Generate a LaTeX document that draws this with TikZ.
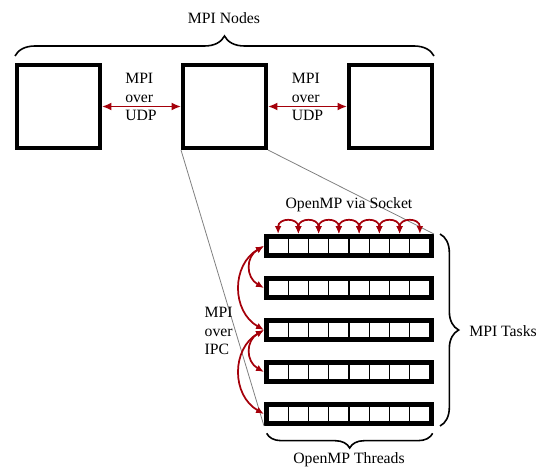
\documentclass[tikz,border=0pt]{standalone}
\usepackage{fontspec}
\setmainfont{Liberation Serif}
\usetikzlibrary{arrows.meta,decorations.pathreplacing}
\definecolor{linkred}{RGB}{165,0,10}

\begin{document}
\begin{tikzpicture}[x=0.75pt, y=-0.75pt,
  font=\fontsize{11.8}{13.8}\selectfont,
  box/.style={draw, line width=3pt, minimum size=62.25pt, inner sep=0pt},
  task/.style={draw, line width=3pt, minimum width=124.5pt, minimum height=15pt, inner sep=0pt},
  cell/.style={draw, line width=1.1pt, minimum width=15.19pt, minimum height=12pt, inner sep=0pt, outer sep=0pt, outer ysep=3pt},
  link/.style={linkred, line width=1.4pt, >={Latex[length=7pt,width=6pt]}, <->},
  hop/.style={linkred, line width=1.3pt, >={Latex[length=6pt,width=5pt]}, <->},
  brace/.style={decorate, decoration={brace, amplitude=#1}, line width=1.2pt}]
  \useasboundingbox (0,0) rectangle (539,467);

  \node[box] (n1) at (58.5,106.5) {};
  \node[box] (n2) at (224.5,106.5) {};
  \node[box] (n3) at (390.5,106.5) {};
  \node (nodes) at (224,18) {MPI Nodes};
  \node[align=left] (udp1) at (141,97) {MPI\\over\\UDP};
  \node[align=left] (udp2) at (307.5,97) {MPI\\over\\UDP};

  \foreach \r in {1,...,5} {
    \foreach \k in {1,...,8}
      \node[cell] (c\r\k) at ({257.875+20.25*\k},{204+42*\r}) {};
    \node[task] (row\r) at (349,{204+42*\r}) {};
  }

  \draw[gray, line width=0.6pt] (n2.south west) -- (row5.south west);
  \draw[gray, line width=0.6pt] (n2.south east) -- (row1.north east);

  \draw[link] (n1) -- (n2);
  \draw[link] (n2) -- (n3);

  \foreach \k [evaluate=\k as \j using int(\k+1)] in {1,...,7}
    \draw[hop] (c1\k.north) to[out=90, in=90, looseness=2.1] (c1\j.north);

  \draw[hop] (row1.west) to[bend right=60, looseness=1.3] (row2.west);
  \draw[hop] (row1.west) to[bend right=60, looseness=1.15] (row3.west);
  \draw[hop] (row3.west) to[bend right=60, looseness=1.3] (row4.west);
  \draw[hop] (row3.west) to[bend right=60, looseness=1.15] (row5.west);

  \draw[brace=15pt] ([yshift=5.25pt]n1.north west) -- ([yshift=5.25pt]n3.north east);
  \draw[brace=14pt] ([xshift=4.5pt]row1.north east) -- ([xshift=4.5pt]row5.south east);
  \draw[brace=11pt] ([shift={(-1pt,-5.5pt)}]row5.south east) -- ([shift={(2pt,-5.5pt)}]row5.south west);

  \node (socket) at (349,205) {OpenMP via Socket};
  \node[anchor=west, align=left] (ipc) at (200,331) {MPI\\over\\IPC};
  \node[anchor=west, inner sep=0pt] (tasks) at (469,331) {MPI Tasks};
  \node (threads) at (349,460) {OpenMP Threads};
\end{tikzpicture}
\end{document}
